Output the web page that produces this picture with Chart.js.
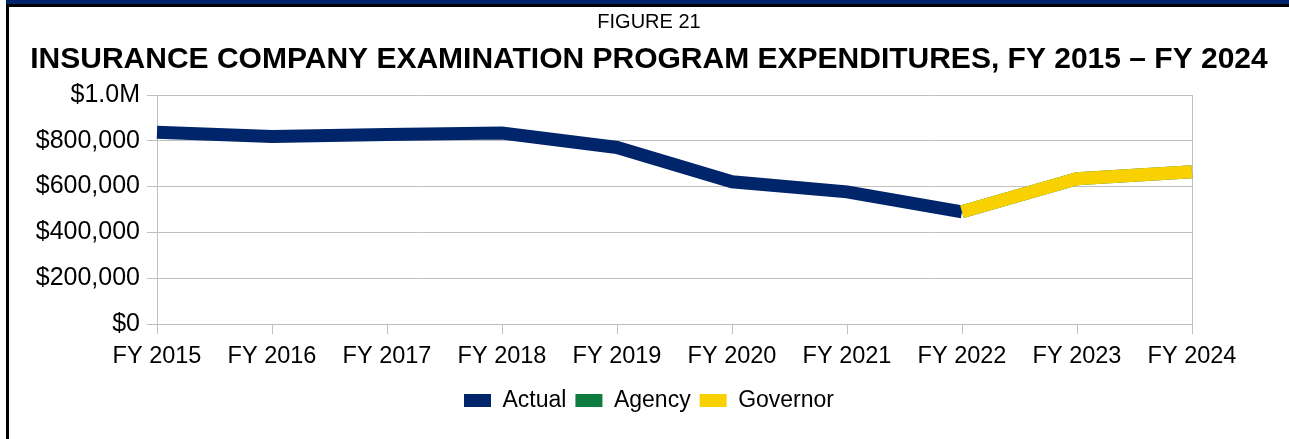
<!DOCTYPE html>
<html>
<head>
<meta charset="utf-8">
<script src="https://cdn.jsdelivr.net/npm/chart.js@4.4.1/dist/chart.umd.min.js"></script>
<style>
  html, body { margin: 0; padding: 0; background: #fff; }
  body { width: 1289px; height: 439px; position: relative; overflow: hidden; }
  #topbar { position: absolute; left: 6px; top: 0; width: 1283px; height: 4px; background: #00256a; }
  #topline { position: absolute; left: 6px; top: 4px; width: 1283px; height: 3px; background: #000; }
  #leftline { position: absolute; left: 6px; top: 4px; width: 3px; height: 435px; background: #000; }
  #wrap { position: absolute; left: 9px; top: 7px; width: 1280px; height: 432px; }
</style>
</head>
<body>
<div id="topbar"></div>
<div id="topline"></div>
<div id="leftline"></div>
<div id="wrap"><canvas id="chart"></canvas></div>
<script>
const years = ['FY 2015', 'FY 2016', 'FY 2017', 'FY 2018', 'FY 2019', 'FY 2020', 'FY 2021', 'FY 2022', 'FY 2023', 'FY 2024'];
const actual = [837000, 819000, 827000, 834000, 771000, 621000, 577000, 490000, null, null];
const agency = [null, null, null, null, null, null, null, 490000, 634000, 665000];
const governor = [null, null, null, null, null, null, null, 490000, 634000, 665000];
const yTicks = [0, 200000, 400000, 600000, 800000, 1000000];

const font = 'Liberation Sans, Arial, sans-serif';
const gridGray = '#c0c0c0';

const fmtMoney = (v) => v >= 1000000 ? '$1.0M' : '$' + v.toLocaleString('en-US');

new Chart(document.getElementById('chart'), {
  type: 'line',
  data: {
    labels: years,
    datasets: [
      { label: 'Actual', data: actual, borderColor: '#00256a', backgroundColor: '#00256a', order: 2 },
      { label: 'Agency', data: agency, borderColor: '#0e7c3f', backgroundColor: '#0e7c3f', order: 1 },
      { label: 'Governor', data: governor, borderColor: '#f9d100', backgroundColor: '#f9d100', order: 0 },
    ],
  },
  options: {
    responsive: true,
    maintainAspectRatio: false,
    animation: false,
    layout: { padding: { left: 0, right: 0, top: 0, bottom: 17 } },
    elements: {
      line: { borderWidth: 13, tension: 0, borderCapStyle: 'butt', borderJoinStyle: 'miter' },
      point: { radius: 0, hoverRadius: 0 },
    },
    plugins: {
      title: {
        display: true,
        text: 'FIGURE 21',
        color: '#000',
        font: { family: font, size: 20, weight: 'normal' },
        padding: { top: 3, bottom: 0 },
      },
      subtitle: {
        display: true,
        text: 'INSURANCE COMPANY EXAMINATION PROGRAM EXPENDITURES, FY 2015 \u2013 FY 2024',
        color: '#000',
        font: { family: font, size: 30, weight: 'bold' },
        padding: { top: 8, bottom: 17 },
      },
      legend: {
        position: 'bottom',
        labels: {
          color: '#000',
          font: { family: font, size: 23 },
          boxWidth: 27,
          boxHeight: 13,
          padding: 9,
          sort: (a, b) => a.datasetIndex - b.datasetIndex,
          generateLabels: (chart) => Chart.defaults.plugins.legend.labels.generateLabels(chart)
            .map(item => Object.assign(item, { lineWidth: 0, strokeStyle: 'rgba(0,0,0,0)' })),
        },
      },
      tooltip: { enabled: false },
    },
    scales: {
      x: {
        offset: false,
        afterFit: (scale) => { scale.height = 56; },
        grid: {
          display: true,
          drawOnChartArea: true,
          color: (ctx) => ctx.index === years.length - 1 ? gridGray : 'rgba(0,0,0,0)',
          tickColor: gridGray,
          tickLength: 10,
        },
        border: { display: true, color: gridGray },
        ticks: {
          color: '#000',
          font: { family: font, size: 23.5 },
          maxRotation: 0,
          autoSkip: false,
          padding: 8,
        },
      },
      y: {
        min: 0,
        max: 1000000,
        afterBuildTicks: (scale) => { scale.ticks = yTicks.map(v => ({ value: v })); },
        afterFit: (scale) => { scale.width = 148; },
        grid: { color: gridGray, tickColor: gridGray, tickLength: 10 },
        border: { display: true, color: gridGray },
        ticks: {
          color: '#000',
          font: { family: font, size: 25 },
          padding: 7,
          callback: (v) => fmtMoney(v),
        },
      },
      yRight: {
        position: 'right',
        display: true,
        grid: { display: false },
        border: { display: false },
        ticks: { display: false },
        afterFit: (scale) => { scale.width = 97; },
      },
    },
  },
});
</script>
</body>
</html>
